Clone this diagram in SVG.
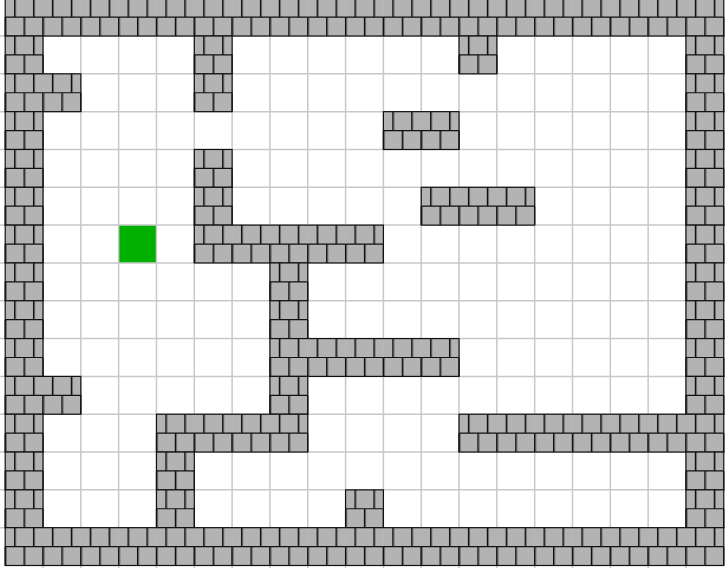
<svg xmlns="http://www.w3.org/2000/svg" width="725" height="568" viewBox="0 0 725 568">
<style>
.grid{stroke:#c8c8c8;stroke-width:1.5;fill:none}
.mortar{stroke:#111;stroke-width:1.2;fill:none}
.shade{stroke:#6e6e6e;stroke-width:1.2;fill:none}
</style>
<defs>
<g id="brick">
<rect width="37.82" height="37.82" fill="#b3b3b3"/>
<path class="shade" d="M10.5 0V18.91M29.4 0V18.91M20 18.91V37.82M1.1 18.91V37.82"/>
<path class="mortar" d="M9.455 0V18.91M28.365 0V18.91M0 18.91H37.82M0 18.91V37.82M18.91 18.91V37.82M37.82 18.91V37.82"/>
</g>
</defs>
<rect width="725" height="568" fill="#ffffff"/>
<g id="goal"><rect x="118.66" y="225.12" width="37.82" height="37.82" fill="#00b000"/></g>
<g id="grid" class="grid">
<path d="M43.02 0V568M80.84 0V568M118.66 0V568M156.48 0V568M194.3 0V568M232.12 0V568M269.94 0V568M307.76 0V568M345.58 0V568M383.4 0V568M421.22 0V568M459.04 0V568M496.86 0V568M534.68 0V568M572.5 0V568M610.32 0V568M648.14 0V568M685.96 0V568"/>
<path d="M0 36.02H725M0 73.84H725M0 111.66H725M0 149.48H725M0 187.3H725M0 225.12H725M0 262.94H725M0 300.76H725M0 338.58H725M0 376.4H725M0 414.22H725M0 452.04H725M0 489.86H725M0 527.68H725"/>
</g>
<g id="walls">
<g id="row0" transform="translate(0,-1.8)">
<use href="#brick" x="5.2"/><use href="#brick" x="43.02"/><use href="#brick" x="80.84"/><use href="#brick" x="118.66"/><use href="#brick" x="156.48"/><use href="#brick" x="194.3"/><use href="#brick" x="232.12"/><use href="#brick" x="269.94"/><use href="#brick" x="307.76"/><use href="#brick" x="345.58"/><use href="#brick" x="383.4"/><use href="#brick" x="421.22"/><use href="#brick" x="459.04"/><use href="#brick" x="496.86"/><use href="#brick" x="534.68"/><use href="#brick" x="572.5"/><use href="#brick" x="610.32"/><use href="#brick" x="648.14"/><use href="#brick" x="685.96"/>
<rect class="mortar" x="5.2" width="718.58" height="37.82"/>
</g>
<g id="row1" transform="translate(0,36.02)">
<use href="#brick" x="5.2"/><use href="#brick" x="194.3"/><use href="#brick" x="459.04"/><use href="#brick" x="685.96"/>
<rect class="mortar" x="5.2" width="37.82" height="37.82"/><rect class="mortar" x="194.3" width="37.82" height="37.82"/><rect class="mortar" x="459.04" width="37.82" height="37.82"/><rect class="mortar" x="685.96" width="37.82" height="37.82"/>
</g>
<g id="row2" transform="translate(0,73.84)">
<use href="#brick" x="5.2"/><use href="#brick" x="43.02"/><use href="#brick" x="194.3"/><use href="#brick" x="685.96"/>
<rect class="mortar" x="5.2" width="75.64" height="37.82"/><rect class="mortar" x="194.3" width="37.82" height="37.82"/><rect class="mortar" x="685.96" width="37.82" height="37.82"/>
</g>
<g id="row3" transform="translate(0,111.66)">
<use href="#brick" x="5.2"/><use href="#brick" x="383.4"/><use href="#brick" x="421.22"/><use href="#brick" x="685.96"/>
<rect class="mortar" x="5.2" width="37.82" height="37.82"/><rect class="mortar" x="383.4" width="75.64" height="37.82"/><rect class="mortar" x="685.96" width="37.82" height="37.82"/>
</g>
<g id="row4" transform="translate(0,149.48)">
<use href="#brick" x="5.2"/><use href="#brick" x="194.3"/><use href="#brick" x="685.96"/>
<rect class="mortar" x="5.2" width="37.82" height="37.82"/><rect class="mortar" x="194.3" width="37.82" height="37.82"/><rect class="mortar" x="685.96" width="37.82" height="37.82"/>
</g>
<g id="row5" transform="translate(0,187.3)">
<use href="#brick" x="5.2"/><use href="#brick" x="194.3"/><use href="#brick" x="421.22"/><use href="#brick" x="459.04"/><use href="#brick" x="496.86"/><use href="#brick" x="685.96"/>
<rect class="mortar" x="5.2" width="37.82" height="37.82"/><rect class="mortar" x="194.3" width="37.82" height="37.82"/><rect class="mortar" x="421.22" width="113.46" height="37.82"/><rect class="mortar" x="685.96" width="37.82" height="37.82"/>
</g>
<g id="row6" transform="translate(0,225.12)">
<use href="#brick" x="5.2"/><use href="#brick" x="194.3"/><use href="#brick" x="232.12"/><use href="#brick" x="269.94"/><use href="#brick" x="307.76"/><use href="#brick" x="345.58"/><use href="#brick" x="685.96"/>
<rect class="mortar" x="5.2" width="37.82" height="37.82"/><rect class="mortar" x="194.3" width="189.1" height="37.82"/><rect class="mortar" x="685.96" width="37.82" height="37.82"/>
</g>
<g id="row7" transform="translate(0,262.94)">
<use href="#brick" x="5.2"/><use href="#brick" x="269.94"/><use href="#brick" x="685.96"/>
<rect class="mortar" x="5.2" width="37.82" height="37.82"/><rect class="mortar" x="269.94" width="37.82" height="37.82"/><rect class="mortar" x="685.96" width="37.82" height="37.82"/>
</g>
<g id="row8" transform="translate(0,300.76)">
<use href="#brick" x="5.2"/><use href="#brick" x="269.94"/><use href="#brick" x="685.96"/>
<rect class="mortar" x="5.2" width="37.82" height="37.82"/><rect class="mortar" x="269.94" width="37.82" height="37.82"/><rect class="mortar" x="685.96" width="37.82" height="37.82"/>
</g>
<g id="row9" transform="translate(0,338.58)">
<use href="#brick" x="5.2"/><use href="#brick" x="269.94"/><use href="#brick" x="307.76"/><use href="#brick" x="345.58"/><use href="#brick" x="383.4"/><use href="#brick" x="421.22"/><use href="#brick" x="685.96"/>
<rect class="mortar" x="5.2" width="37.82" height="37.82"/><rect class="mortar" x="269.94" width="189.1" height="37.82"/><rect class="mortar" x="685.96" width="37.82" height="37.82"/>
</g>
<g id="row10" transform="translate(0,376.4)">
<use href="#brick" x="5.2"/><use href="#brick" x="43.02"/><use href="#brick" x="269.94"/><use href="#brick" x="685.96"/>
<rect class="mortar" x="5.2" width="75.64" height="37.82"/><rect class="mortar" x="269.94" width="37.82" height="37.82"/><rect class="mortar" x="685.96" width="37.82" height="37.82"/>
</g>
<g id="row11" transform="translate(0,414.22)">
<use href="#brick" x="5.2"/><use href="#brick" x="156.48"/><use href="#brick" x="194.3"/><use href="#brick" x="232.12"/><use href="#brick" x="269.94"/><use href="#brick" x="459.04"/><use href="#brick" x="496.86"/><use href="#brick" x="534.68"/><use href="#brick" x="572.5"/><use href="#brick" x="610.32"/><use href="#brick" x="648.14"/><use href="#brick" x="685.96"/>
<rect class="mortar" x="5.2" width="37.82" height="37.82"/><rect class="mortar" x="156.48" width="151.28" height="37.82"/><rect class="mortar" x="459.04" width="264.74" height="37.82"/>
</g>
<g id="row12" transform="translate(0,452.04)">
<use href="#brick" x="5.2"/><use href="#brick" x="156.48"/><use href="#brick" x="685.96"/>
<rect class="mortar" x="5.2" width="37.82" height="37.82"/><rect class="mortar" x="156.48" width="37.82" height="37.82"/><rect class="mortar" x="685.96" width="37.82" height="37.82"/>
</g>
<g id="row13" transform="translate(0,489.86)">
<use href="#brick" x="5.2"/><use href="#brick" x="156.48"/><use href="#brick" x="345.58"/><use href="#brick" x="685.96"/>
<rect class="mortar" x="5.2" width="37.82" height="37.82"/><rect class="mortar" x="156.48" width="37.82" height="37.82"/><rect class="mortar" x="345.58" width="37.82" height="37.82"/><rect class="mortar" x="685.96" width="37.82" height="37.82"/>
</g>
<g id="row14" transform="translate(0,527.68)">
<use href="#brick" x="5.2"/><use href="#brick" x="43.02"/><use href="#brick" x="80.84"/><use href="#brick" x="118.66"/><use href="#brick" x="156.48"/><use href="#brick" x="194.3"/><use href="#brick" x="232.12"/><use href="#brick" x="269.94"/><use href="#brick" x="307.76"/><use href="#brick" x="345.58"/><use href="#brick" x="383.4"/><use href="#brick" x="421.22"/><use href="#brick" x="459.04"/><use href="#brick" x="496.86"/><use href="#brick" x="534.68"/><use href="#brick" x="572.5"/><use href="#brick" x="610.32"/><use href="#brick" x="648.14"/><use href="#brick" x="685.96"/>
<rect class="mortar" x="5.2" width="718.58" height="37.82"/>
</g>
</g>
</svg>
